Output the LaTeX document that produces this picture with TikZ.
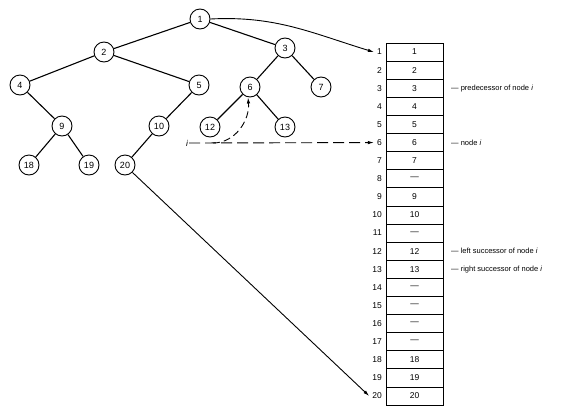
\documentclass[tikz,border=0pt]{standalone}
\usepackage{fontspec}
\setmainfont{Liberation Sans}
\usetikzlibrary{arrows.meta}
\begin{document}
\begin{tikzpicture}[x=1pt,y=-1pt,
  tn/.style={circle,draw,line width=0.9pt,minimum size=20pt,inner sep=0pt,font=\fontsize{9}{10}\selectfont},
  edge/.style={line width=1.1pt},
  cell/.style={rectangle,draw,line width=0.8pt,minimum width=57pt,minimum height=18.1pt,inner sep=0pt,font=\fontsize{8.5}{10}\selectfont},
  rn/.style={anchor=east,inner sep=0pt,font=\fontsize{8.5}{10}\selectfont},
  ann/.style={anchor=west,inner sep=0pt,font=\fontsize{7.5}{9}\selectfont},
  arr/.style={line width=0.9pt,-{Latex[length=6pt,width=3.5pt]}}]
\useasboundingbox (0,0) rectangle (580,410);
% tree
\node[tn] (t1) at (200,19) {1};
\node[tn] (t2) at (104,52) {2};
\node[tn] (t3) at (285,48) {3};
\node[tn] (t4) at (20,85) {4};
\node[tn] (t5) at (199,85) {5};
\node[tn] (t6) at (250,87) {6};
\node[tn] (t7) at (321,87) {7};
\node[tn] (t9) at (62,126) {9};
\node[tn] (t10) at (159,126) {10};
\node[tn] (t12) at (210,127) {12};
\node[tn] (t13) at (285,127) {13};
\node[tn] (t18) at (29,165) {18};
\node[tn] (t19) at (89,165) {19};
\node[tn] (t20) at (125,165) {20};
\draw[edge] (t1) -- (t2);
\draw[edge] (t1) -- (t3);
\draw[edge] (t2) -- (t4);
\draw[edge] (t2) -- (t5);
\draw[edge] (t3) -- (t6);
\draw[edge] (t3) -- (t7);
\draw[edge] (t4) -- (t9);
\draw[edge] (t5) -- (t10);
\draw[edge] (t6) -- (t12);
\draw[edge] (t6) -- (t13);
\draw[edge] (t9) -- (t18);
\draw[edge] (t9) -- (t19);
\draw[edge] (t10) -- (t20);
% table
\foreach \k/\v in {1/1,2/2,3/3,4/4,5/5,6/6,7/7,8/---,9/9,10/10,11/---,12/12,13/13,14/---,15/---,16/---,17/---,18/18,19/19,20/20}{
  \node[cell] (r\k) at (414.5,{43+(\k-0.5)*18.1}) {\v};
  \node[rn] (n\k) at (382,{43+(\k-0.5)*18.1}) {\k};
}
% annotations
\node[ann] (a3) at (451,{43+2.5*18.1}) {--- predecessor of node \textit{i}};
\node[ann] (a6) at (451,{43+5.5*18.1}) {--- node \textit{i}};
\node[ann] (a12) at (451,{43+11.5*18.1}) {--- left successor of node \textit{i}};
\node[ann] (a13) at (451,{43+12.5*18.1}) {--- right successor of node \textit{i}};
% pointers
\node[inner sep=1pt,font=\fontsize{8.5}{10}\selectfont\itshape] (i) at (187,143) {i};
\coordinate (ci) at (213,143);
\draw[arr] (t1.east) to[out=3,in=163] ([xshift=-3pt]n1.west);
\draw[arr] (t20.south east) -- ([xshift=-3pt]n20.west);
\draw[arr,dash pattern=on 11pt off 5pt] (i.east) -- ([xshift=-3pt]n6.west);
\draw[arr,dash pattern=on 7pt off 4pt] (ci) to[out=0,in=-85] ([xshift=-2pt]t6.south);
\end{tikzpicture}
\end{document}
